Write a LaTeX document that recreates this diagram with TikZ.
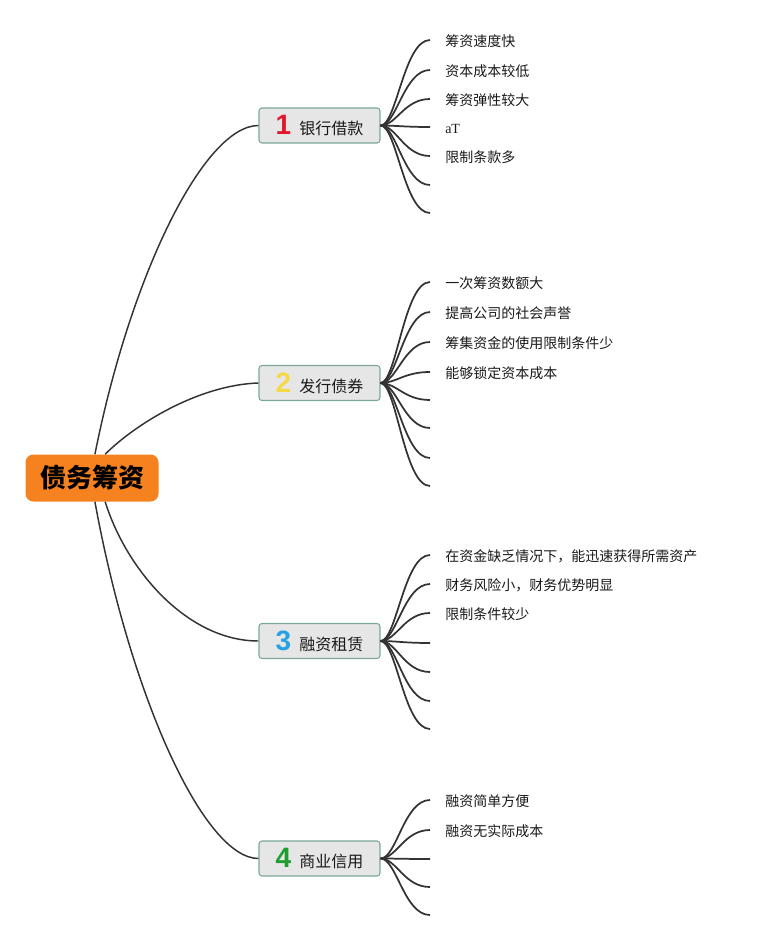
\documentclass[tikz,border=0pt]{standalone}
\usepackage{fontspec}
\newfontfamily\cjk{Noto Sans CJK SC}
\newfontfamily\numfont{Liberation Sans}
\newfontfamily\latinserif{Liberation Serif}
\usetikzlibrary{calc}
\definecolor{rootorange}{HTML}{F5821F}
\definecolor{boxfill}{HTML}{E6E6E6}
\definecolor{boxedge}{HTML}{7BA897}
\definecolor{linkgray}{HTML}{333333}
\definecolor{numred}{HTML}{E0182D}
\definecolor{numyellow}{HTML}{F5D949}
\definecolor{numblue}{HTML}{27A1E5}
\definecolor{numgreen}{HTML}{1E9E2E}
\newcommand{\numtag}[2]{{\numfont\bfseries\fontsize{21}{22}\selectfont\color{#1}#2}\hspace{6pt}}
\tikzset{
  rootbox/.style   = {fill=rootorange, rounded corners=6pt, minimum width=99.75pt,
                      minimum height=35.25pt, inner sep=0pt,
                      font=\cjk\bfseries\fontsize{19.5}{22}\selectfont},
  topicbox/.style  = {draw=boxedge, fill=boxfill, rounded corners=2.25pt, line width=0.8pt,
                      minimum width=90.75pt, minimum height=26.25pt, inner sep=0pt,
                      font=\cjk\fontsize{12}{14}\selectfont, text=black!90},
  leaftext/.style  = {anchor=west, inner sep=0pt, font=\cjk\fontsize{10.5}{12}\selectfont,
                      text=black!90},
  mainlink/.style  = {linkgray, line width=1.1pt},
  leaflink/.style  = {linkgray, line width=1.3pt}
}

\begin{document}
\begin{tikzpicture}[x=0.75pt, y=-0.75pt]
  \useasboundingbox (0,0) rectangle (757,941);

  % root and the four topics
  \node[rootbox] (root) at (92,478) {债务筹资};
  \node[topicbox] (b1) at (319.5,125.5) {\numtag{numred}{1}银行借款};
  \node[topicbox] (b2) at (319.5,383) {\numtag{numyellow}{2}发行债券};
  \node[topicbox] (b3) at (319.5,641) {\numtag{numblue}{3}融资租赁};
  \node[topicbox] (b4) at (319.5,858.5) {\numtag{numgreen}{4}商业信用};

  \draw[mainlink] (root.83) .. controls +(36,-181) and +(-54,0) .. (b1.west);
  \draw[mainlink] (root.61) .. controls +(30,-30) and +(-60,2) .. (b2.west);
  \draw[mainlink] (root.-61) .. controls +(22,70) and +(-70,0) .. (b3.west);
  \draw[mainlink] (root.-83) .. controls +(36,197) and +(-54,0) .. (b4.west);

  % leaves of topic 1
  \foreach \y [count=\i] in {40,70,99,127,156,185,213}{
    \coordinate (a\i) at (430,\y);
    \draw[leaflink] (b1.east) .. controls +(16,0) and +(-26,0) .. (a\i);
  }
  \node[leaftext] (ta1) at (445,41.5) {筹资速度快};
  \node[leaftext] (ta2) at (445,71.5) {资本成本较低};
  \node[leaftext] (ta3) at (445,100.5) {筹资弹性较大};
  \node[leaftext, font=\latinserif\fontsize{10.5}{12}\selectfont] (ta4) at (445,128.5) {aT};
  \node[leaftext] (ta5) at (445,157.5) {限制条款多};

  % leaves of topic 2
  \foreach \y [count=\i] in {282,312,342,372,400,428,458,486}{
    \coordinate (c\i) at (430,\y);
    \draw[leaflink] (b2.east) .. controls +(16,0) and +(-26,0) .. (c\i);
  }
  \node[leaftext] (tc1) at (445,283.5) {一次筹资数额大};
  \node[leaftext] (tc2) at (445,313.5) {提高公司的社会声誉};
  \node[leaftext] (tc3) at (445,343.5) {筹集资金的使用限制条件少};
  \node[leaftext] (tc4) at (445,373.5) {能够锁定资本成本};

  % leaves of topic 3
  \foreach \y [count=\i] in {555,584,613,643,672,701,729}{
    \coordinate (d\i) at (430,\y);
    \draw[leaflink] (b3.east) .. controls +(16,0) and +(-26,0) .. (d\i);
  }
  \node[leaftext] (td1) at (445,556) {在资金缺乏情况下，能迅速获得所需资产};
  \node[leaftext] (td2) at (445,585) {财务风险小，财务优势明显};
  \node[leaftext] (td3) at (445,614.5) {限制条件较少};

  % leaves of topic 4
  \foreach \y [count=\i] in {800,830,859,887,915}{
    \coordinate (e\i) at (430,\y);
    \draw[leaflink] (b4.east) .. controls +(16,0) and +(-26,0) .. (e\i);
  }
  \node[leaftext] (te1) at (445,801.5) {融资简单方便};
  \node[leaftext] (te2) at (445,831) {融资无实际成本};
\end{tikzpicture}
\end{document}
